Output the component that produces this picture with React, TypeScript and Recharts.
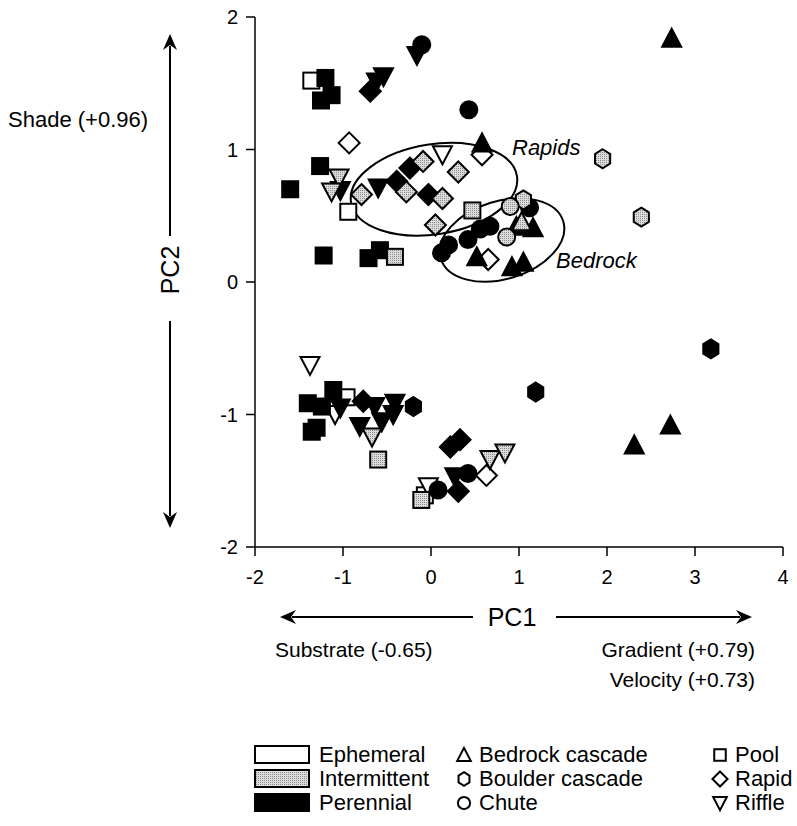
import React from 'react';
import { ScatterChart, Scatter, XAxis, YAxis, ReferenceDot } from 'recharts';

// PC scores, grouped by flow regime and habitat type
const xTicks = [-2, -1, 0, 1, 2, 3, 4];
const yTicks = [-2, -1, 0, 1, 2];

const ephemeralPool = [
  { x: -1.36, y: 1.52 }, { x: -0.94, y: 0.53 }, { x: -0.96, y: -0.87 }, { x: -0.07, y: -1.61 },
];
const ephemeralRapid = [
  { x: -0.93, y: 1.05 }, { x: 0.58, y: 0.96 }, { x: 0.65, y: 0.17 }, { x: 0.63, y: -1.46 },
];
const ephemeralRiffle = [
  { x: 0.13, y: 0.96 }, { x: -1.375, y: -0.63 }, { x: -1.09, y: -1.0 }, { x: -0.03, y: -1.545 },
];

const intermittentPool = [
  { x: -0.41, y: 0.19 }, { x: 0.47, y: 0.54 }, { x: -0.6, y: -1.34 }, { x: -0.11, y: -1.645 },
];
const intermittentRapid = [
  { x: -0.79, y: 0.66 }, { x: -0.28, y: 0.68 }, { x: -0.09, y: 0.91 },
  { x: 0.13, y: 0.63 }, { x: 0.05, y: 0.43 }, { x: 0.31, y: 0.83 },
];
const intermittentRiffle = [
  { x: -1.045, y: 0.785 }, { x: -1.13, y: 0.68 }, { x: -0.67, y: -1.17 },
  { x: 0.67, y: -1.34 }, { x: 0.84, y: -1.29 },
];
const intermittentBoulder = [
  { x: 1.95, y: 0.93 }, { x: 2.39, y: 0.49 }, { x: 1.05, y: 0.62 },
];
const intermittentChute = [
  { x: 0.9, y: 0.57 }, { x: 0.86, y: 0.34 },
];
const intermittentBedrock = [
  { x: 1.03, y: 0.455 },
];

const perennialPool = [
  { x: -1.2, y: 1.54 }, { x: -1.13, y: 1.41 }, { x: -1.25, y: 1.37 }, { x: -1.26, y: 0.875 },
  { x: -1.6, y: 0.7 }, { x: -1.22, y: 0.2 }, { x: -0.71, y: 0.18 }, { x: -0.58, y: 0.24 },
  { x: -1.11, y: -0.815 }, { x: -1.4, y: -0.915 }, { x: -1.24, y: -0.94 },
  { x: -1.3, y: -1.1 }, { x: -1.355, y: -1.13 },
];
const perennialRapid = [
  { x: -0.69, y: 1.44 }, { x: -0.39, y: 0.76 }, { x: -0.24, y: 0.86 }, { x: -0.03, y: 0.66 },
  { x: -0.77, y: -0.9 }, { x: 0.22, y: -1.245 }, { x: 0.33, y: -1.19 }, { x: 0.31, y: -1.58 },
];
const perennialRiffle = [
  { x: -0.54, y: 1.55 }, { x: -0.62, y: 1.51 }, { x: -0.16, y: 1.71 }, { x: -1.03, y: 0.69 },
  { x: -0.6, y: 0.71 }, { x: -1.03, y: -0.95 }, { x: -0.64, y: -0.94 }, { x: -0.41, y: -0.915 },
  { x: -0.43, y: -1.0 }, { x: -0.56, y: -1.055 }, { x: -0.81, y: -1.09 }, { x: 0.27, y: -1.47 },
];
const perennialChute = [
  { x: -0.105, y: 1.79 }, { x: 0.43, y: 1.3 }, { x: 0.2, y: 0.28 }, { x: 0.12, y: 0.22 },
  { x: 0.42, y: 0.32 }, { x: 0.56, y: 0.4 }, { x: 0.67, y: 0.42 }, { x: 1.12, y: 0.56 },
  { x: 0.42, y: -1.445 }, { x: 0.08, y: -1.57 },
];
const perennialBoulder = [
  { x: -0.2, y: -0.94 }, { x: 1.19, y: -0.83 }, { x: 3.18, y: -0.505 },
];
const perennialBedrock = [
  { x: 0.58, y: 1.05 }, { x: 2.735, y: 1.84 }, { x: 0.97, y: 0.42 }, { x: 1.16, y: 0.41 },
  { x: 0.52, y: 0.19 }, { x: 0.92, y: 0.115 }, { x: 1.05, y: 0.15 },
  { x: 2.72, y: -1.08 }, { x: 2.31, y: -1.23 },
];

// ellipse centres (data units) for the two groupings
const rapidsCentre = { x: 0.034, y: 0.7 };
const bedrockCentre = { x: 0.807, y: 0.317 };

const WHITE = '#ffffff';
const GREY = 'url(#stipple)';
const BLACK = '#000000';
const FONT = '"Liberation Sans", Arial, Helvetica, sans-serif';

type Kind = 'triangle' | 'hexagon' | 'circle' | 'square' | 'diamond' | 'riffle';

function Marker({ cx, cy, kind, fill, s = 1 }: { cx: number; cy: number; kind: Kind; fill: string; s?: number }) {
  const sw = 2;
  if (cx == null || cy == null) return null;
  switch (kind) {
    case 'square': {
      const h = 8 * s;
      return <rect x={cx - h} y={cy - h} width={2 * h} height={2 * h} fill={fill} stroke="#000" strokeWidth={sw} />;
    }
    case 'diamond': {
      const h = 10.5 * s;
      return <polygon points={`${cx},${cy - h} ${cx + h},${cy} ${cx},${cy + h} ${cx - h},${cy}`} fill={fill} stroke="#000" strokeWidth={sw} />;
    }
    case 'circle':
      return <circle cx={cx} cy={cy} r={8.5 * s} fill={fill} stroke="#000" strokeWidth={sw} />;
    case 'triangle': {
      const w = 9.5 * s, h = 8.5 * s;
      return <polygon points={`${cx},${cy - h - 1} ${cx + w},${cy + h} ${cx - w},${cy + h}`} fill={fill} stroke="#000" strokeWidth={sw} />;
    }
    case 'riffle': {
      const w = 9.5 * s, h = 8.5 * s;
      return <polygon points={`${cx - w},${cy - h} ${cx + w},${cy - h} ${cx},${cy + h + 1}`} fill={fill} stroke="#000" strokeWidth={sw} />;
    }
    case 'hexagon': {
      const r = 9.5 * s;
      const pts = [0, 1, 2, 3, 4, 5]
        .map((i) => {
          const a = (Math.PI / 3) * i - Math.PI / 2;
          return `${cx + r * Math.cos(a) * 0.92},${cy + r * Math.sin(a)}`;
        })
        .join(' ');
      return <polygon points={pts} fill={fill} stroke="#000" strokeWidth={sw} />;
    }
  }
  return null;
}

// drawing order: ephemeral underneath, then perennial, intermittent on top
const series: { data: { x: number; y: number }[]; kind: Kind; fill: string }[] = [
  { data: ephemeralPool, kind: 'square', fill: WHITE },
  { data: ephemeralRapid, kind: 'diamond', fill: WHITE },
  { data: ephemeralRiffle, kind: 'riffle', fill: WHITE },
  { data: perennialPool, kind: 'square', fill: BLACK },
  { data: perennialRapid, kind: 'diamond', fill: BLACK },
  { data: perennialRiffle, kind: 'riffle', fill: BLACK },
  { data: perennialChute, kind: 'circle', fill: BLACK },
  { data: perennialBoulder, kind: 'hexagon', fill: BLACK },
  { data: perennialBedrock, kind: 'triangle', fill: BLACK },
  { data: intermittentPool, kind: 'square', fill: GREY },
  { data: intermittentRapid, kind: 'diamond', fill: GREY },
  { data: intermittentRiffle, kind: 'riffle', fill: GREY },
  { data: intermittentBoulder, kind: 'hexagon', fill: GREY },
  { data: intermittentChute, kind: 'circle', fill: GREY },
  { data: intermittentBedrock, kind: 'triangle', fill: GREY },
];

const legendRegimes = [
  { label: 'Ephemeral', fill: WHITE },
  { label: 'Intermittent', fill: GREY },
  { label: 'Perennial', fill: BLACK },
];
const legendHabitatsA: { label: string; kind: Kind }[] = [
  { label: 'Bedrock cascade', kind: 'triangle' },
  { label: 'Boulder cascade', kind: 'hexagon' },
  { label: 'Chute', kind: 'circle' },
];
const legendHabitatsB: { label: string; kind: Kind }[] = [
  { label: 'Pool', kind: 'square' },
  { label: 'Rapid', kind: 'diamond' },
  { label: 'Riffle', kind: 'riffle' },
];

function Arrow({ x1, y1, x2, y2 }: { x1: number; y1: number; x2: number; y2: number }) {
  // line from (x1,y1) with arrowhead at (x2,y2)
  const dx = x2 - x1, dy = y2 - y1;
  const len = Math.hypot(dx, dy);
  const ux = dx / len, uy = dy / len;
  const hl = 16, hw = 7;
  const bx = x2 - ux * hl, by = y2 - uy * hl;
  return (
    <g>
      <line x1={x1} y1={y1} x2={bx + ux * 4} y2={by + uy * 4} stroke="#000" strokeWidth={2} />
      <polygon points={`${x2},${y2} ${bx - uy * hw},${by + ux * hw} ${bx + ux * 5},${by + uy * 5} ${bx + uy * hw},${by - ux * hw}`} fill="#000" />
    </g>
  );
}

const tickStyle = { fontSize: 20, fill: '#000', fontFamily: FONT };
const ROW = 24;

export default function App() {
  return (
    <div style={{ position: 'absolute', left: 0, top: 0, width: 797, height: 826, background: '#fff', overflow: 'hidden' }}>
      <svg width={0} height={0} style={{ position: 'absolute' }}>
        <defs>
          <pattern id="stipple" width={2} height={2} patternUnits="userSpaceOnUse">
            <rect width={2} height={2} fill="#dcdcdc" />
            <rect width={1} height={1} fill="#8c8c8c" />
          </pattern>
        </defs>
      </svg>
      <div style={{ position: 'absolute', left: 0, top: 0 }}>
        <ScatterChart width={797} height={610} margin={{ top: 17, right: 14, bottom: 0, left: 0 }}>
          <XAxis
            type="number"
            dataKey="x"
            domain={[-2, 4]}
            ticks={xTicks}
            interval={0}
            allowDataOverflow
            height={63}
            tickSize={9}
            tickMargin={14}
            stroke="#000"
            strokeWidth={1.5}
            tick={tickStyle}
          />
          <YAxis
            type="number"
            dataKey="y"
            domain={[-2, 2]}
            ticks={yTicks}
            interval={0}
            allowDataOverflow
            width={255}
            tickSize={9}
            tickMargin={8}
            stroke="#000"
            strokeWidth={1.5}
            tick={tickStyle}
          />
          <ReferenceDot
            x={rapidsCentre.x}
            y={rapidsCentre.y}
            r={1}
            shape={(p: any) => (
              <ellipse cx={p.cx} cy={p.cy} rx={84} ry={45} transform={`rotate(-9 ${p.cx} ${p.cy})`} fill="none" stroke="#000" strokeWidth={2} />
            )}
          />
          <ReferenceDot
            x={bedrockCentre.x}
            y={bedrockCentre.y}
            r={1}
            shape={(p: any) => (
              <ellipse cx={p.cx} cy={p.cy} rx={64} ry={39} transform={`rotate(-17 ${p.cx} ${p.cy})`} fill="none" stroke="#000" strokeWidth={2} />
            )}
          />
          {series.map((s, i) => (
            <Scatter
              key={i}
              data={s.data}
              isAnimationActive={false}
              shape={(p: any) => <Marker cx={p.cx} cy={p.cy} kind={s.kind} fill={s.fill} />}
            />
          ))}
        </ScatterChart>
      </div>
      <svg width={797} height={826} style={{ position: 'absolute', left: 0, top: 0, pointerEvents: 'none' }} fontFamily={FONT}>
        <text x={512} y={155} fontSize={22} fontStyle="italic">Rapids</text>
        <text x={556} y={268} fontSize={22} fontStyle="italic">Bedrock</text>

        <text x={8} y={127} fontSize={22}>Shade (+0.96)</text>
        <Arrow x1={170} y1={236} x2={170} y2={34} />
        <Arrow x1={170} y1={321} x2={170} y2={528} />
        <text x={179} y={270} fontSize={25} textAnchor="middle" transform="rotate(-90 179 270)">PC2</text>

        <Arrow x1={473} y1={617} x2={280} y2={617} />
        <Arrow x1={556} y1={617} x2={752} y2={617} />
        <text x={512} y={626} fontSize={25} textAnchor="middle">PC1</text>
        <text x={275} y={657} fontSize={21}>Substrate (-0.65)</text>
        <text x={755} y={657} fontSize={21} textAnchor="end">Gradient (+0.79)</text>
        <text x={755} y={687} fontSize={21} textAnchor="end">Velocity (+0.73)</text>

        {legendRegimes.map((r, i) => (
          <g key={r.label}>
            <rect x={255} y={746 + i * ROW} width={54} height={17} fill={r.fill} stroke="#000" strokeWidth={2} />
            <text x={319} y={762 + i * ROW} fontSize={22}>{r.label}</text>
          </g>
        ))}
        {legendHabitatsA.map((h, i) => (
          <g key={h.label}>
            <Marker cx={464} cy={755 + i * ROW} kind={h.kind} fill={WHITE} s={0.72} />
            <text x={479} y={762 + i * ROW} fontSize={22}>{h.label}</text>
          </g>
        ))}
        {legendHabitatsB.map((h, i) => (
          <g key={h.label}>
            <Marker cx={720} cy={755 + i * ROW} kind={h.kind} fill={WHITE} s={0.72} />
            <text x={735} y={762 + i * ROW} fontSize={22}>{h.label}</text>
          </g>
        ))}
      </svg>
    </div>
  );
}
